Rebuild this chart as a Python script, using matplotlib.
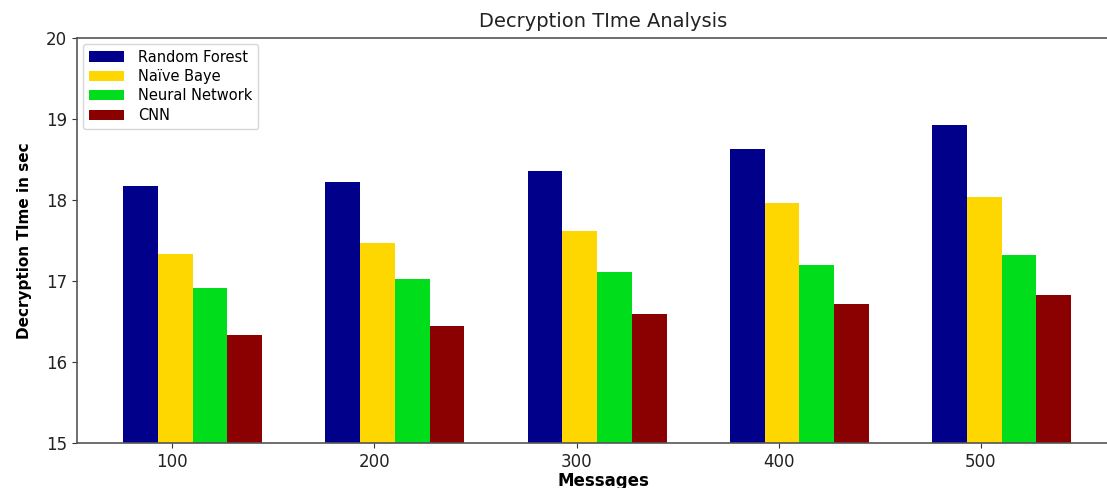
import matplotlib
matplotlib.use('Agg')
import matplotlib.pyplot as plt
import numpy as np

# data
messages = ['100', '200', '300', '400', '500']
random_forest = [18.17, 18.22, 18.36, 18.63, 18.93]
naive_baye = [17.33, 17.47, 17.62, 17.96, 18.04]
neural_network = [16.91, 17.02, 17.11, 17.20, 17.32]
cnn = [16.33, 16.44, 16.59, 16.72, 16.83]

series = [random_forest, naive_baye, neural_network, cnn]
labels = ['Random Forest', 'Naïve Baye', 'Neural Network', 'CNN']
colors = ['#00008b', '#ffd700', '#00dd1a', '#8b0000']

fig = plt.figure(figsize=(11.07, 4.88), dpi=100)
# axes runs past the right edge (reference image is cropped there)
ax = fig.add_axes([77/1107, 45/488, (1129-77)/1107, 405/488])

w = 0.172
r = np.arange(len(messages))
for k, (vals, lab, col) in enumerate(zip(series, labels, colors)):
    ax.bar(r - 0.156 + k*w, vals, width=w, color=col, label=lab)

ax.set_ylim(15, 20)
ax.set_xlim(-0.470, 4.732)
ax.set_xticks(r)
ax.set_xticklabels(messages)
ax.tick_params(labelsize=12, colors='#333333')
ax.tick_params(labelcolor='#222222')
ax.set_yticks([15, 16, 17, 18, 19, 20])
for s in ax.spines.values():
    s.set_color('#555555')
    s.set_linewidth(1.2)

ax.set_title('Decryption TIme Analysis', fontsize=14, color='#222222', pad=8)
ax.set_ylabel('Decryption TIme in sec', fontsize=11, fontweight='bold', labelpad=10)
ax.set_xlabel('Messages', fontsize=12, fontweight='bold', labelpad=1)
ax.legend(loc='upper left', fontsize=10.5, handlelength=2.4, labelspacing=0.3,
          handletextpad=1.0, borderaxespad=0.4)

fig.savefig('out.png', dpi=100)
